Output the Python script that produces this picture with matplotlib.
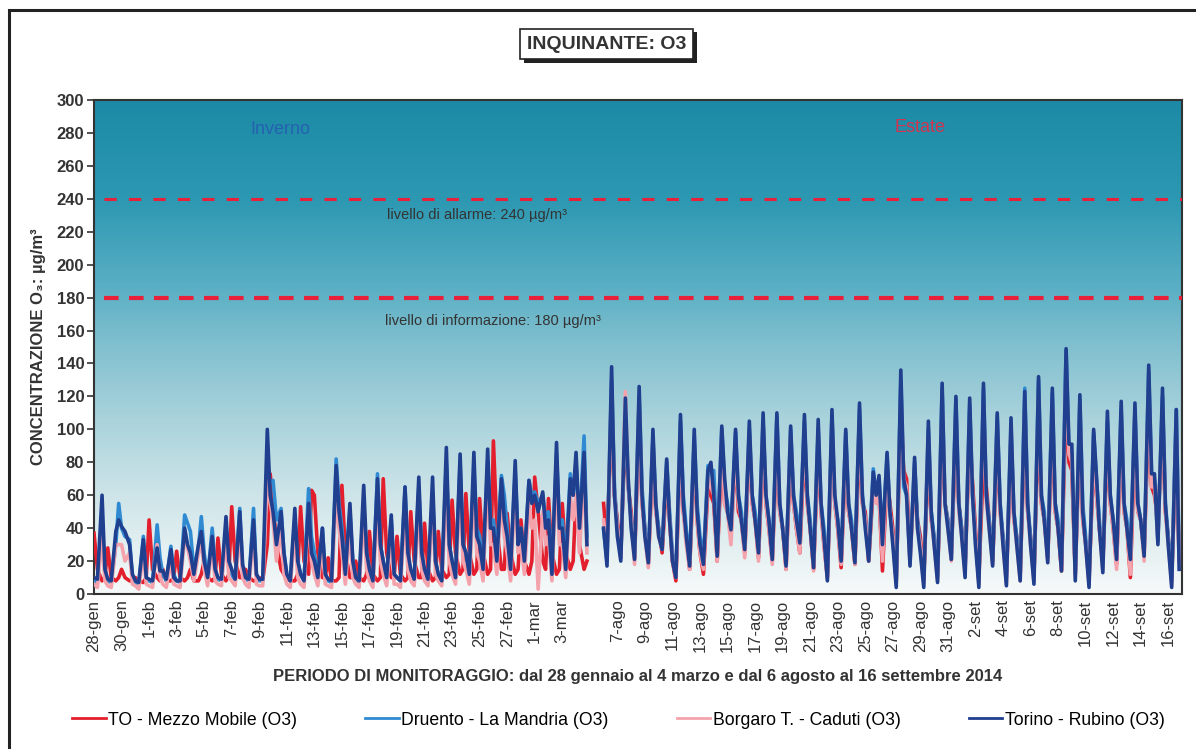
import matplotlib.pyplot as plt
import matplotlib.patheffects as pe
import numpy as np
from matplotlib.colors import LinearSegmentedColormap
from matplotlib.patches import Rectangle

plt.rcParams['font.family'] = ['Liberation Sans', 'DejaVu Sans']

# sample hours for every day
hours = [0, 6, 14, 19]

winter_labels = ['28-gen', '30-gen', '1-feb', '3-feb', '5-feb', '7-feb', '9-feb', '11-feb',
                 '13-feb', '15-feb', '17-feb', '19-feb', '21-feb', '23-feb', '25-feb',
                 '27-feb', '1-mar', '3-mar']
summer_labels = ['7-ago', '9-ago', '11-ago', '13-ago', '15-ago', '17-ago', '19-ago', '21-ago',
                 '23-ago', '25-ago', '27-ago', '29-ago', '31-ago', '2-set', '4-set', '6-set',
                 '8-set', '10-set', '12-set', '14-set', '16-set']

# winter: 28-gen .. 4-mar, 4 values per day
mezzo_win = [37, 15, 8, 10, 28, 10, 8, 10, 15, 10, 8, 8, 10, 8, 7, 10,
             45, 15, 10, 8, 15, 8, 8, 10, 26, 10, 8, 10, 15, 8, 8, 12,
             20, 10, 8, 10, 34, 12, 8, 12, 53, 20, 10, 10, 15, 10, 8, 8,
             10, 8, 30, 73, 55, 30, 15, 12, 10, 8, 8, 12, 53, 20, 12, 63,
             60, 25, 10, 10, 22, 8, 8, 10, 66, 25, 10, 10, 20, 10, 8, 12,
             38, 12, 8, 10, 70, 25, 10, 10, 35, 12, 8, 10, 50, 20, 10, 10,
             43, 15, 8, 10, 38, 15, 10, 12, 57, 25, 12, 15, 61, 25, 12, 15,
             58, 25, 12, 15, 93, 40, 15, 15, 49, 25, 12, 15, 45, 20, 12, 20,
             71, 50, 20, 15, 58, 25, 12, 15, 55, 25, 15, 20, 60, 30, 15, 20]
druento_win = [8, 7, 45, 12, 8, 7, 30, 55, 40, 35, 33, 10, 7, 6, 35, 10,
               8, 7, 42, 22, 12, 8, 29, 12, 8, 7, 48, 43, 38, 15, 28, 47,
               25, 10, 40, 15, 9, 8, 40, 15, 12, 8, 52, 15, 9, 8, 52, 12,
               8, 8, 75, 68, 69, 45, 52, 25, 12, 8, 45, 20, 12, 8, 64, 35,
               25, 10, 40, 12, 8, 7, 82, 55, 40, 12, 50, 20, 10, 7, 55, 25,
               12, 8, 73, 30, 20, 10, 45, 12, 10, 8, 65, 20, 12, 8, 65, 22,
               12, 8, 60, 20, 12, 8, 80, 30, 20, 10, 80, 30, 25, 12, 75, 40,
               35, 15, 80, 45, 45, 25, 72, 60, 40, 15, 75, 35, 40, 20, 69, 60,
               62, 55, 60, 45, 50, 15, 85, 45, 45, 20, 73, 60, 80, 40, 96, 35]
borgaro_win = [6, 4, 35, 8, 5, 4, 30, 30, 30, 20, 25, 6, 5, 3, 25, 6,
               5, 4, 30, 10, 6, 4, 20, 6, 5, 4, 35, 28, 20, 8, 25, 30,
               15, 5, 30, 8, 6, 5, 35, 10, 8, 5, 40, 10, 6, 4, 38, 6,
               5, 5, 70, 55, 45, 20, 40, 12, 6, 4, 40, 10, 6, 4, 50, 20,
               12, 5, 30, 6, 5, 4, 60, 40, 25, 6, 40, 10, 6, 4, 50, 15,
               8, 4, 55, 20, 12, 5, 38, 6, 6, 4, 50, 15, 8, 5, 55, 15,
               8, 5, 55, 12, 8, 5, 65, 20, 12, 6, 65, 20, 15, 6, 65, 25,
               20, 8, 70, 30, 30, 12, 60, 35, 25, 8, 65, 25, 30, 12, 55, 40,
               45, 3, 50, 30, 35, 8, 75, 30, 30, 10, 60, 45, 60, 25, 75, 25]
rubino_win = [10, 9, 60, 15, 9, 8, 38, 45, 41, 38, 30, 12, 8, 7, 33, 10,
              9, 8, 28, 14, 14, 9, 27, 10, 8, 8, 40, 30, 25, 12, 30, 38,
              20, 10, 35, 15, 10, 9, 47, 20, 15, 9, 50, 18, 10, 9, 45, 12,
              9, 9, 100, 60, 50, 30, 50, 25, 12, 8, 52, 20, 12, 8, 55, 25,
              20, 10, 40, 12, 9, 8, 78, 50, 35, 12, 55, 20, 10, 8, 66, 25,
              15, 8, 70, 30, 20, 10, 48, 12, 10, 8, 65, 25, 15, 9, 71, 25,
              15, 9, 71, 20, 12, 8, 89, 30, 20, 10, 85, 30, 25, 12, 86, 35,
              30, 15, 88, 40, 40, 20, 70, 45, 35, 15, 81, 30, 40, 20, 69, 55,
              60, 50, 62, 40, 45, 12, 92, 40, 40, 15, 70, 60, 86, 40, 86, 30]

# summer: 6-ago .. 16-set, 4 values per day
mezzo_sum = [55, 30, 110, 60, 45, 25, 100, 65, 50, 22, 105, 55, 40, 18, 85, 50,
             40, 25, 70, 45, 20, 8, 90, 50, 35, 15, 85, 45, 25, 12, 65, 60,
             55, 20, 85, 55, 50, 35, 85, 50, 45, 25, 90, 55, 45, 22, 90, 55,
             40, 20, 90, 50, 40, 15, 85, 55, 40, 25, 90, 55, 40, 15, 88, 50,
             30, 10, 95, 55, 40, 16, 85, 50, 40, 18, 95, 55, 50, 20, 65, 60,
             60, 14, 70, 55, 40, 8, 110, 75, 70, 25, 70, 45, 35, 10, 85, 45,
             35, 12, 100, 55, 45, 25, 95, 55, 40, 18, 95, 68, 40, 10, 81, 65,
             45, 20, 90, 50, 35, 12, 85, 45, 35, 12, 100, 50, 35, 12, 105, 55,
             45, 22, 100, 50, 40, 14, 120, 80, 75, 12, 100, 45, 31, 10, 80, 60,
             40, 20, 90, 55, 40, 18, 95, 50, 40, 10, 95, 50, 45, 25, 110, 65,
             60, 45, 100, 50, 35, 10, 90, 20]
druento_sum = [39, 20, 130, 65, 40, 22, 110, 65, 45, 25, 120, 65, 40, 22, 95, 55,
               40, 30, 80, 50, 25, 12, 105, 60, 40, 20, 95, 55, 35, 22, 78, 75,
               75, 28, 100, 65, 55, 40, 98, 60, 50, 30, 100, 60, 50, 28, 105, 60,
               45, 25, 108, 55, 40, 20, 100, 60, 50, 35, 105, 60, 45, 20, 100, 55,
               40, 12, 108, 55, 45, 22, 98, 55, 45, 22, 112, 60, 45, 25, 76, 60,
               70, 35, 84, 50, 35, 8, 130, 65, 60, 20, 80, 45, 30, 8, 100, 50,
               35, 10, 125, 55, 45, 21, 118, 55, 40, 15, 115, 60, 35, 8, 125, 60,
               45, 20, 108, 55, 35, 10, 100, 50, 35, 12, 125, 55, 35, 10, 130, 60,
               50, 22, 122, 55, 45, 18, 148, 85, 85, 12, 118, 55, 35, 8, 98, 70,
               45, 18, 105, 60, 45, 23, 112, 55, 45, 23, 112, 55, 45, 25, 135, 73,
               70, 32, 120, 55, 35, 8, 112, 25]
borgaro_sum = [45, 25, 120, 60, 40, 22, 123, 65, 45, 18, 115, 55, 35, 16, 90, 50,
               35, 27, 75, 45, 20, 10, 95, 50, 30, 15, 90, 45, 25, 15, 70, 65,
               60, 20, 95, 55, 50, 30, 90, 55, 45, 22, 95, 55, 45, 20, 100, 55,
               40, 18, 100, 50, 40, 15, 95, 55, 40, 25, 100, 55, 40, 14, 95, 50,
               30, 10, 100, 55, 40, 18, 90, 50, 40, 18, 105, 55, 45, 20, 70, 55,
               60, 20, 78, 50, 35, 6, 120, 70, 65, 18, 75, 40, 30, 6, 95, 45,
               30, 8, 115, 55, 40, 20, 110, 50, 35, 12, 105, 60, 35, 6, 115, 55,
               40, 18, 100, 50, 30, 6, 95, 45, 30, 8, 110, 50, 30, 8, 120, 55,
               45, 20, 112, 50, 40, 15, 135, 85, 80, 10, 110, 45, 30, 6, 90, 60,
               40, 15, 100, 55, 40, 15, 105, 50, 40, 12, 105, 50, 45, 20, 125, 65,
               65, 35, 110, 50, 30, 6, 100, 20]
rubino_sum = [40, 17, 138, 60, 35, 20, 119, 70, 40, 21, 126, 60, 35, 19, 100, 55,
              35, 27, 82, 45, 20, 10, 109, 55, 35, 17, 100, 50, 30, 18, 75, 80,
              60, 23, 102, 70, 50, 39, 100, 60, 45, 27, 105, 60, 45, 25, 110, 60,
              45, 21, 110, 55, 40, 17, 102, 60, 45, 31, 109, 60, 40, 16, 106, 55,
              35, 8, 112, 60, 45, 20, 100, 55, 40, 19, 116, 60, 40, 20, 74, 60,
              72, 30, 86, 50, 30, 4, 136, 70, 60, 17, 83, 40, 25, 4, 105, 50,
              30, 7, 128, 55, 40, 21, 120, 55, 35, 10, 119, 60, 30, 4, 128, 60,
              40, 17, 110, 55, 30, 5, 107, 50, 30, 8, 123, 55, 30, 6, 132, 60,
              45, 19, 125, 55, 40, 14, 149, 91, 91, 8, 121, 50, 30, 4, 100, 71,
              40, 13, 111, 60, 45, 21, 117, 55, 40, 21, 116, 55, 45, 23, 139, 73,
              73, 30, 125, 55, 30, 4, 112, 15]

series_names = ['TO - Mezzo Mobile (O3)', 'Druento - La Mandria (O3)',
                'Borgaro T. - Caduti (O3)', 'Torino - Rubino (O3)']
series_colors = ['#e41f2d', '#2f8ad2', '#f4a3ad', '#203f8e']

# x positions: days from 28-gen, summer block after a one-day gap
n_win = len(rubino_win) // len(hours)
n_sum = len(rubino_sum) // len(hours)
x_win = [d + h / 24 for d in range(n_win) for h in hours]
x_sum = [n_win + 1 + d + h / 24 for d in range(n_sum) for h in hours]
x_all = np.array(x_win + [np.nan] + x_sum)

fig = plt.figure(figsize=(11.96, 7.49), dpi=100)
ax = fig.add_axes([0.0786, 0.2069, 0.9097, 0.6596])

x_end = n_win + 1 + n_sum
# background gradient
grad_cmap = LinearSegmentedColormap.from_list('bg', [
    (0.0, '#f6f9f9'), (0.07, '#e8f2f3'), (0.2, '#cde4e8'), (0.35, '#aad3dc'),
    (0.5, '#82c0cf'), (0.62, '#5aafc4'), (0.8, '#2d98b2'), (1.0, '#1c8aa6')])
ax.imshow(np.linspace(0, 1, 300).reshape(-1, 1), cmap=grad_cmap, origin='lower',
          extent=[0, x_end, 0, 300], aspect='auto', zorder=0)

for name, col, w, s in zip(series_names, series_colors,
                           [mezzo_win, druento_win, borgaro_win, rubino_win],
                           [mezzo_sum, druento_sum, borgaro_sum, rubino_sum]):
    y_all = np.array(w + [np.nan] + s, dtype=float)
    ax.plot(x_all, y_all, color=col, lw=2.6, label=name, zorder=3)

# soglie
ax.plot([0.7, x_end], [240, 240], color='#e8203a', lw=2.2, dashes=(4, 4), zorder=4)
ax.plot([0.7, x_end], [180, 180], color='#e8203a', lw=3, dashes=(3.5, 2.5), zorder=4)
ax.text(27.8, 230, 'livello di allarme: 240 µg/m³', ha='center', va='center',
        fontsize=10.5, color='#333333')
ax.text(29.0, 166, 'livello di informazione: 180 µg/m³', ha='center', va='center',
        fontsize=10.5, color='#333333')
ax.text(13.5, 282, 'Inverno', ha='center', va='center', fontsize=13, color='#2462b0')
ax.text(60.0, 283, 'Estate', ha='center', va='center', fontsize=13, color='#d4334f')

ax.set_xlim(0, x_end)
ax.set_ylim(0, 300)
ax.set_yticks(range(0, 301, 20))
ax.tick_params(axis='y', labelsize=12, colors='#333333', length=5, width=1.2, pad=2)
for t in ax.get_yticklabels():
    t.set_fontweight('bold')

tick_pos = list(range(0, n_win, 2)) + list(range(n_win + 2, x_end, 2))
ax.set_xticks(tick_pos)
ax.set_xticklabels(winter_labels + summer_labels, rotation=90, fontsize=12, color='#333333')
ax.tick_params(axis='x', length=0, pad=4)

for sp in ax.spines.values():
    sp.set_color('#333333')
    sp.set_linewidth(1.5)

ax.set_ylabel('CONCENTRAZIONE O₃: µg/m³', fontsize=12, fontweight='bold', color='#333333',
              labelpad=8)
ax.set_xlabel('PERIODO DI MONITORAGGIO: dal 28 gennaio al 4 marzo e dal 6 agosto al 16 settembre 2014',
              fontsize=12, fontweight='bold', color='#333333', labelpad=12)

title = fig.text(0.5075, 0.941, 'INQUINANTE: O3', ha='center', va='center', fontsize=14,
                 fontweight='bold', color='#333333',
                 bbox=dict(boxstyle='square,pad=0.35', fc='white', ec='#222222', lw=1.2))
title.get_bbox_patch().set_path_effects([
    pe.withSimplePatchShadow(offset=(2.5, -2.5), shadow_rgbFace='#222222', alpha=1.0)])

leg = fig.legend(loc='center', bbox_to_anchor=(0.517, 0.0387), ncol=4, frameon=False,
                 fontsize=12.7, handlelength=1.9, handletextpad=0.15, columnspacing=3.85)
for line in leg.get_lines():
    line.set_linewidth(2)

# cornice esterna
fig.add_artist(Rectangle((0.0075, -0.05), 1.2, 1.0366, transform=fig.transFigure,
                         fill=False, ec='#222222', lw=2.2))

fig.savefig('out.png', dpi=100)
